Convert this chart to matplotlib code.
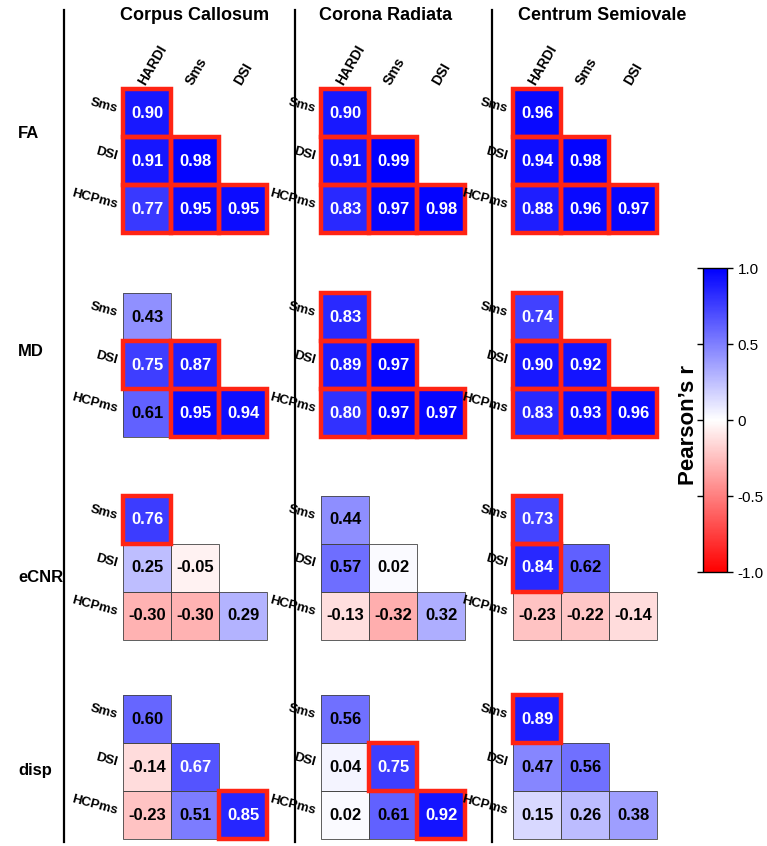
import numpy as np
import matplotlib
matplotlib.use("Agg")
import matplotlib.pyplot as plt
from matplotlib.patches import Rectangle
from matplotlib.lines import Line2D
from matplotlib.cm import ScalarMappable
from matplotlib.colors import Normalize

plt.rcParams['font.family'] = ['Liberation Sans', 'DejaVu Sans']

regions = ['Corpus Callosum', 'Corona Radiata', 'Centrum Semiovale']
metrics = ['FA', 'MD', 'eCNR', 'disp']
col_labels = ['HARDI', 'Sms', 'DSI']
row_labels = ['Sms', 'DSI', 'HCPms']

# lower-triangle order: Sms-HARDI, DSI-HARDI, DSI-Sms, HCPms-HARDI, HCPms-Sms, HCPms-DSI
fa_r = [[0.90, 0.91, 0.98, 0.77, 0.95, 0.95],
        [0.90, 0.91, 0.99, 0.83, 0.97, 0.98],
        [0.96, 0.94, 0.98, 0.88, 0.96, 0.97]]
md_r = [[0.43, 0.75, 0.87, 0.61, 0.95, 0.94],
        [0.83, 0.89, 0.97, 0.80, 0.97, 0.97],
        [0.74, 0.90, 0.92, 0.83, 0.93, 0.96]]
ecnr_r = [[0.76, 0.25, -0.05, -0.30, -0.30, 0.29],
          [0.44, 0.57, 0.02, -0.13, -0.32, 0.32],
          [0.73, 0.84, 0.62, -0.23, -0.22, -0.14]]
disp_r = [[0.60, -0.14, 0.67, -0.23, 0.51, 0.85],
          [0.56, 0.04, 0.75, 0.02, 0.61, 0.92],
          [0.89, 0.47, 0.56, 0.15, 0.26, 0.38]]

# cells outlined in red
fa_sig = [[1, 1, 1, 1, 1, 1], [1, 1, 1, 1, 1, 1], [1, 1, 1, 1, 1, 1]]
md_sig = [[0, 1, 1, 0, 1, 1], [1, 1, 1, 1, 1, 1], [1, 1, 1, 1, 1, 1]]
ecnr_sig = [[1, 0, 0, 0, 0, 0], [0, 0, 0, 0, 0, 0], [1, 1, 0, 0, 0, 0]]
disp_sig = [[0, 0, 0, 0, 0, 1], [0, 0, 1, 0, 0, 1], [1, 0, 0, 0, 0, 0]]

all_r = [fa_r, md_r, ecnr_r, disp_r]
all_sig = [fa_sig, md_sig, ecnr_sig, disp_sig]
tri_idx = [(0, 0), (1, 0), (1, 1), (2, 0), (2, 1), (2, 2)]

W, H = 767, 846
fig = plt.figure(figsize=(W / 100, H / 100), dpi=100)
cmap = plt.get_cmap('bwr_r')
norm = Normalize(-1, 1)

col_x = [123, 321, 513]
row_y = [89, 293, 496, 695]
size = 144
red = '#ff2414'

for i, m in enumerate(metrics):
    for j, reg in enumerate(regions):
        ax = fig.add_axes([col_x[j] / W, 1 - (row_y[i] + size) / H, size / W, size / H])
        vals = all_r[i][j]
        sig = all_sig[i][j]
        grid = np.full((3, 3), np.nan)
        for (r, c), v in zip(tri_idx, vals):
            grid[r, c] = v
        ax.imshow(np.ma.masked_invalid(grid), cmap=cmap, norm=norm,
                  extent=(0, 3, 3, 0), aspect='auto', interpolation='nearest')
        ax.set_xlim(0, 3)
        ax.set_ylim(3, 0)
        for s in ax.spines.values():
            s.set_visible(False)
        ax.set_xticks([])
        ax.set_yticks([])
        # thin grey edges
        for (r, c), v, s in zip(tri_idx, vals, sig):
            if not s:
                ax.add_patch(Rectangle((c, r), 1, 1, fill=False, ec='#444444',
                                       lw=0.6, clip_on=False, zorder=3))
        for (r, c), v, s in zip(tri_idx, vals, sig):
            if s:
                ax.add_patch(Rectangle((c, r), 1, 1, fill=False, ec=red,
                                       lw=3.2, clip_on=False, zorder=4))
            ax.text(c + 0.5, r + 0.5, f"{v:.2f}", ha='center', va='center',
                    fontsize=12, fontweight='bold',
                    color='white' if v >= 0.65 else 'black', zorder=5)
        for r, lab in enumerate(row_labels):
            ax.text(-0.12, r + 0.42, lab, ha='right', va='center', rotation=-15,
                    rotation_mode='anchor', fontsize=9.5, fontweight='bold')
        if i == 0:
            for c, lab in enumerate(col_labels):
                ax.text(c + 0.38, -0.1, lab, ha='left', va='center', rotation=60,
                        rotation_mode='anchor', fontsize=10, fontweight='bold')

# column titles
title_x = [195, 386, 602]
for reg, tx in zip(regions, title_x):
    fig.text(tx / W, 1 - 15 / H, reg, ha='center', va='center',
             fontsize=13, fontweight='bold')

# metric labels
label_y = [133, 352, 578, 770]
for m, ly in zip(metrics, label_y):
    fig.text(18 / W, 1 - ly / H, m, ha='left', va='center',
             fontsize=12, fontweight='bold')

# separator lines
for lx in [64, 295, 492]:
    fig.add_artist(Line2D([lx / W, lx / W], [1 - 10 / H, 1 - 842 / H],
                          color='black', lw=1.6))

# colorbar
cax = fig.add_axes([703 / W, 1 - 572 / H, 24 / W, 304 / H])
sm = ScalarMappable(norm=norm, cmap=cmap)
cb = fig.colorbar(sm, cax=cax, ticks=[-1, -0.5, 0, 0.5, 1])
cb.ax.set_yticklabels(['-1.0', '-0.5', '0', '0.5', '1.0'], fontsize=11)
cb.outline.set_linewidth(1)
cb.ax.tick_params(left=True, right=True, length=4, width=1)
fig.text(688 / W, 1 - 425 / H, 'Pearson\u2019s r', rotation=90, ha='center',
         va='center', fontsize=16, fontweight='bold')

fig.savefig('out.png', dpi=100)
